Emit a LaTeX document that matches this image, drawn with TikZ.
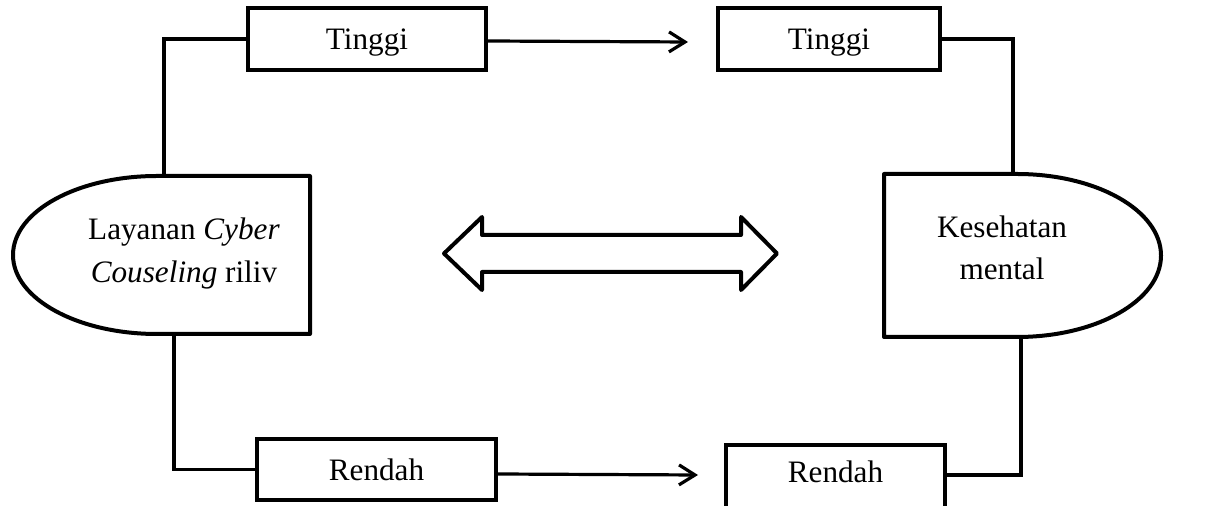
\documentclass[tikz,border=0pt]{standalone}
\usepackage{fontspec}
\setmainfont{Liberation Serif}
\usetikzlibrary{arrows.meta}
\begin{document}
\begin{tikzpicture}[x=0.5pt,y=-0.5pt,
  txt/.style={font=\fontsize{15.6}{18}\selectfont, inner sep=0pt},
  box/.style={draw, line width=2pt, rectangle, inner sep=0pt, text depth=0pt, font=\fontsize{15.6}{18}\selectfont},
  shapeline/.style={line width=2pt, line join=round},
  conn/.style={line width=1.6pt},
  arr/.style={line width=1.6pt, -{Straight Barb[length=8pt,width=10pt,line width=1.6pt]}},
  dblarrow/.style={line width=2pt, line join=round}]
\useasboundingbox (0,0) rectangle (1209,506);
% boxes
\node[box, minimum width=119pt, minimum height=31pt] (tl) at (367,39) {Tinggi};
\node[box, minimum width=111pt, minimum height=31pt] (tr) at (829,39) {Tinggi};
\node[box, minimum width=119.5pt, minimum height=30.5pt] (bl) at (376.5,469.5) {Rendah};
\node[box, minimum width=109.5pt, minimum height=34pt] (br) at (835.5,479) {};
\node[txt, anchor=base] (brtext) at (835.5,483) {Rendah};
% left shape
\draw[shapeline] (310,176) -- (157,176) arc[start angle=90, end angle=270, x radius=72pt, y radius=39.5pt] -- (310,334) -- cycle;
\coordinate (ltop) at (164,176);
\coordinate (lbot) at (174,334);
\node[txt, anchor=base] (l1) at (184,240) {Layanan \textit{Cyber}};
\node[txt, anchor=base] (l2) at (184,283) {\textit{Couseling} riliv};
% right shape
\draw[shapeline] (884,174) -- (1017,174) arc[start angle=90, end angle=-90, x radius=72pt, y radius=40.75pt] -- (884,337) -- cycle;
\coordinate (rtop) at (1013,174);
\coordinate (rbot) at (1021,337);
\node[txt, anchor=base] (r1) at (1002,238) {Kesehatan};
\node[txt, anchor=base] (r2) at (1002,280) {mental};
% connectors
\draw[conn] (tl.west) -| (ltop);
\draw[conn] (lbot) |- (bl.west);
\draw[conn] (tr.east) -| (rtop);
\draw[conn] (rbot) |- (br.east |- 0,475);
\draw[arr] (tl.east |- 0,41) -- ([xshift=-14pt]tr.west |- 0,42);
\draw[arr] (bl.east |- 0,474) -- ([xshift=-13pt]br.west |- 0,475);
% double arrow
\draw[dblarrow] (444,253.5) -- (482,217) -- (482,235) -- (741,235) -- (741,217) -- (777,253.5) -- (741,290) -- (741,272) -- (482,272) -- (482,290) -- cycle;
\end{tikzpicture}
\end{document}
